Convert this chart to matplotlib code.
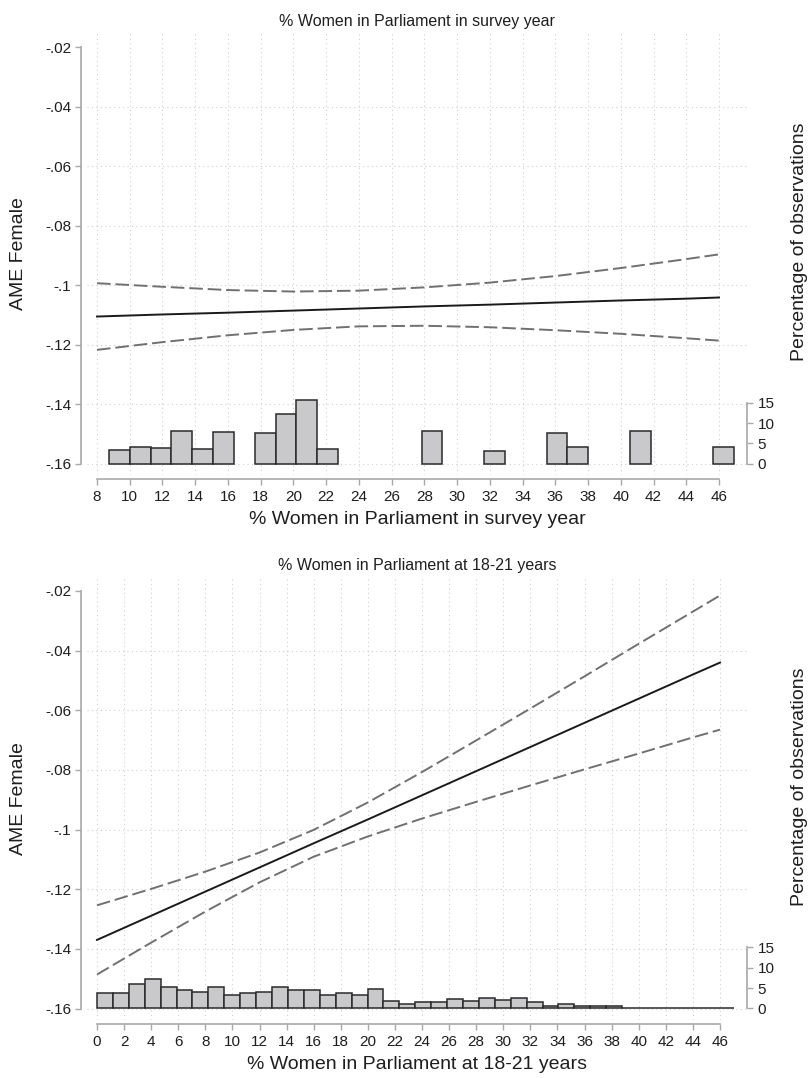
import numpy as np
import matplotlib
matplotlib.use("Agg")
import matplotlib.pyplot as plt

plt.rcParams['font.family'] = ['Liberation Sans', 'DejaVu Sans']

# ---- panel 1: % women in parliament in survey year
x1 = [8, 12, 16, 20, 24, 28, 32, 36, 40, 44, 46]
ame1 = [-0.1106, -0.1099, -0.1093, -0.1086, -0.1079, -0.1072, -0.1066, -0.1059, -0.1052, -0.1046, -0.1042]
hi1 = [-0.0994, -0.1006, -0.1017, -0.1022, -0.1019, -0.1008, -0.0992, -0.0970, -0.0943, -0.0913, -0.0897]
lo1 = [-0.1218, -0.1192, -0.1169, -0.1151, -0.1139, -0.1137, -0.1142, -0.1152, -0.1164, -0.1179, -0.1187]
hist1_start = 8.73
hist1_width = 1.273
hist1 = [3.3, 4.1, 3.9, 8.0, 3.5, 7.8, 0, 7.6, 12.1, 15.7,
         3.6, 0, 0, 0, 0, 8.1, 0, 0, 3.2, 0,
         0, 7.5, 4.0, 0, 0, 8.0, 0, 0, 0, 4.0]
xticks1 = list(range(8, 47, 2))

# ---- panel 2: % women in parliament at 18-21 years
x2 = [0, 4, 8, 12, 16, 20, 24, 28, 32, 36, 40, 44, 46]
ame2 = [-0.1370, -0.1289, -0.1208, -0.1127, -0.1046, -0.0966, -0.0885, -0.0804, -0.0723, -0.0642, -0.0561, -0.0480, -0.0440]
hi2 = [-0.1254, -0.1199, -0.1141, -0.1077, -0.1001, -0.0909, -0.0807, -0.0701, -0.0594, -0.0486, -0.0377, -0.0269, -0.0215]
lo2 = [-0.1486, -0.1379, -0.1275, -0.1177, -0.1091, -0.1023, -0.0963, -0.0907, -0.0852, -0.0798, -0.0745, -0.0691, -0.0665]
hist2_start = 0.0
hist2_width = 1.175
hist2 = [3.9, 3.7, 6.1, 7.2, 5.2, 4.5, 4.0, 5.4, 3.4, 3.8,
         4.0, 5.2, 4.5, 4.5, 3.2, 3.7, 3.3, 4.7, 1.9, 1.2,
         1.5, 1.5, 2.4, 1.8, 2.5, 2.0, 2.5, 1.5, 0.7, 1.0,
         0.7, 0.6, 0.6, 0.15, 0.15, 0.15, 0.15, 0.15, 0.15, 0.15]
xticks2 = list(range(0, 47, 2))

yticks = [-0.02, -0.04, -0.06, -0.08, -0.1, -0.12, -0.14, -0.16]
ylabels = ['-.02', '-.04', '-.06', '-.08', '-.1', '-.12', '-.14', '-.16']

W, H = 809, 1078
fig = plt.figure(figsize=(W / 100, H / 100), dpi=100)

AX_COL = '#a8a8a8'
TXT = '#1e1e1e'


def panel(box, xr, yr, hr, x, ame, hi, lo, hstart, hwidth, hist, xticks, title, xlabel, skip_zero):
    left, top, right, bottom = box
    ax = fig.add_axes([left / W, 1 - bottom / H, (right - left) / W, (bottom - top) / H])
    ax.set_xlim(*xr)
    ax.set_ylim(*yr)

    ax.plot(x, hi, color='#707070', lw=1.4, dashes=(7, 2.5), zorder=3)
    ax.plot(x, lo, color='#707070', lw=1.4, dashes=(7, 2.5), zorder=3)
    ax.plot(x, ame, color='#1a1a1a', lw=1.4, zorder=4)

    ax.set_xticks(xticks)
    ax.set_yticks(yticks)
    ax.set_yticklabels(ylabels)
    for xt in xticks:
        ax.axvline(xt, color='#cfcfcf', lw=0.8, ls=(0, (1, 3)), zorder=0)
    for yt in yticks[1:]:
        ax.axhline(yt, color='#cfcfcf', lw=0.8, ls=(0, (1, 3)), zorder=0)

    for s in ['top', 'right']:
        ax.spines[s].set_visible(False)
    ax.spines['left'].set_position(('outward', 4))
    ax.spines['left'].set_bounds(-0.16, -0.02)
    ax.spines['bottom'].set_position(('outward', 3))
    ax.spines['bottom'].set_bounds(xticks[0], xticks[-1])
    for s in ['left', 'bottom']:
        ax.spines[s].set_color(AX_COL)
        ax.spines[s].set_linewidth(1.2)
    ax.tick_params(colors=AX_COL, labelcolor=TXT, labelsize=11, length=4.5, width=1.0, pad=3)
    ax.set_xlabel(xlabel, fontsize=14, color=TXT, labelpad=5)
    ax.set_title(title, fontsize=11.5, color=TXT, pad=5)

    ax2 = ax.twinx()
    ax2.set_ylim(*hr)
    edges = hstart + hwidth * np.arange(len(hist))
    hv = np.array(hist)
    keep = hv > 0 if skip_zero else np.ones(len(hv), bool)
    ax2.bar(edges[keep], hv[keep], width=hwidth, align='edge', color='#c9c9cb',
            edgecolor='#2a2a2a', linewidth=1.1, zorder=2)
    ax2.set_yticks([0, 5, 10, 15])
    for s in ['top', 'left', 'bottom']:
        ax2.spines[s].set_visible(False)
    ax2.spines['right'].set_bounds(0, 15)
    ax2.spines['right'].set_color(AX_COL)
    ax2.spines['right'].set_linewidth(1.2)
    ax2.tick_params(colors=AX_COL, labelcolor=TXT, labelsize=11, length=4.5, width=1.0, pad=3)

    mid = (top + bottom) / 2
    fig.text(19 / W, 1 - mid / H, 'AME Female', rotation=90, ha='center', va='center',
             fontsize=14, color=TXT)
    fig.text(799 / W, 1 - (mid - 12) / H, 'Percentage of observations', rotation=90,
             ha='center', va='center', fontsize=14, color=TXT)
    return ax


# top panel: 8 at x=97, 46 at x=719 ; -.02 at y=47, -.16 at y=463
px1 = (719 - 97) / 38
py1 = (463.5 - 47) / 0.14
panel((87, 33, 747, 475),
      (8 - 10 / px1, 8 + 650 / px1),
      (-0.02 - (475 - 47) / py1, -0.02 + 14 / py1),
      (-(475 - 463.5) / 4.05, (463.5 - 33) / 4.05),
      x1, ame1, hi1, lo1, hist1_start, hist1_width, hist1, xticks1,
      '% Women in Parliament in survey year', '% Women in Parliament in survey year', True)

# bottom panel: 0 at x=97, 46 at x=720 ; -.02 at y=591, -.16 at y=1008.5
px2 = (720 - 97) / 46
py2 = (1008.5 - 591) / 0.14
panel((87, 577, 747, 1020),
      (-10 / px2, 650 / px2),
      (-0.02 - (1020 - 591) / py2, -0.02 + 14 / py2),
      (-(1020 - 1008.5) / 4.07, (1008.5 - 577) / 4.07),
      x2, ame2, hi2, lo2, hist2_start, hist2_width, hist2, xticks2,
      '% Women in Parliament at 18-21 years', '% Women in Parliament at 18-21 years', False)

fig.savefig('out.png', dpi=100)
